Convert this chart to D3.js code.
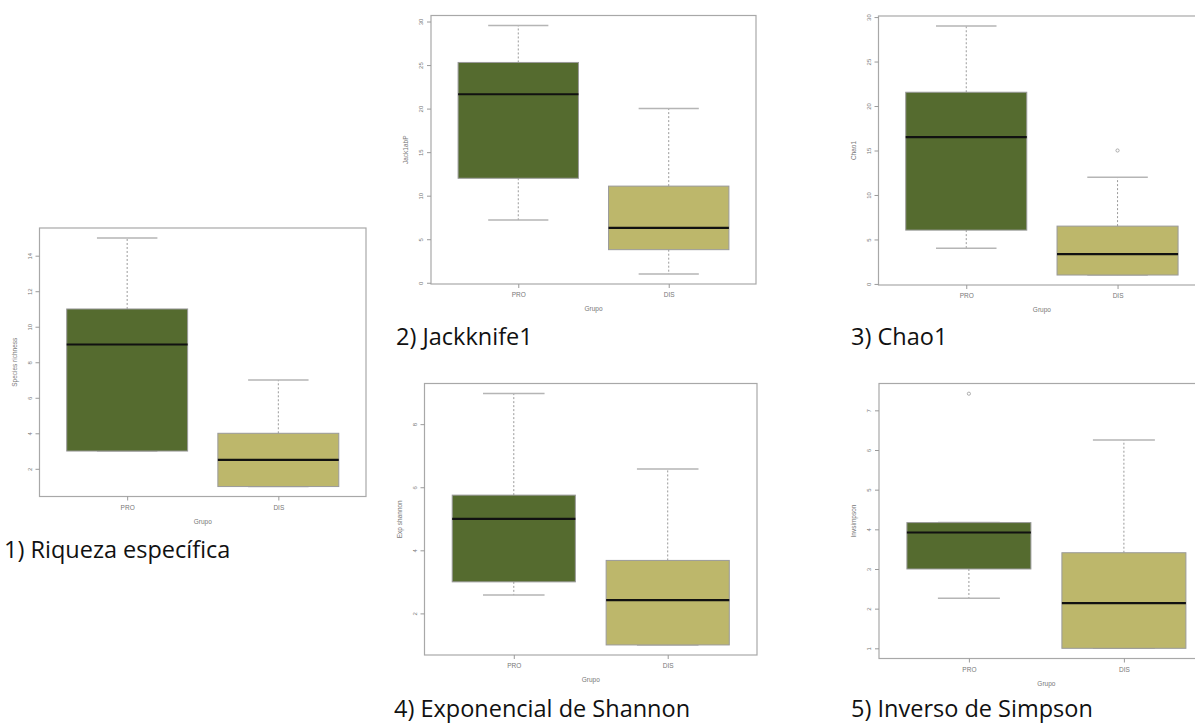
<!DOCTYPE html>
<html>
<head>
<meta charset="utf-8">
<script src="https://cdn.jsdelivr.net/npm/d3@7"></script>
<style>
  body { margin: 0; background: #fff; }
  svg { display: block; }
</style>
</head>
<body>
<div class="boxplots"></div>
<script>
var svgWidth = 1195;
var svgHeight = 726;

// groups on the x axis
var grupos = ["PRO", "DIS"];

// box stats per group: [min, Q1, median, Q3, max]
var riqueza = [[3, 3, 9, 11, 15], [1, 1, 2.5, 4, 7]];
var jackknife = [[7.2, 12, 21.65, 25.3, 29.55], [1, 3.8, 6.3, 11.1, 20]];
var chao = [[4, 6.05, 16.5, 21.55, 29], [1, 1, 3.35, 6.5, 12]];
var expShannon = [[2.58, 3, 5, 5.75, 8.97], [1, 1, 2.42, 3.68, 6.58]];
var invSimpson = [[2.26, 3, 3.92, 4.17, 4.17], [1, 1, 2.14, 3.41, 6.25]];

// outliers per group
var riquezaOut = [[], []];
var jackknifeOut = [[], []];
var chaoOut = [[], [15]];
var expShannonOut = [[], []];
var invSimpsonOut = [[7.42], []];

// y tick labels
var riquezaTicks = [2, 4, 6, 8, 10, 12, 14];
var jackknifeTicks = [0, 5, 10, 15, 20, 25, 30];
var chaoTicks = [0, 5, 10, 15, 20, 25, 30];
var expShannonTicks = [2, 4, 6, 8];
var invSimpsonTicks = [1, 2, 3, 4, 5, 6, 7];

var yLabels = ["Species richness", "Jack1abP", "Chao1", "Exp shannon", "Invsimpson"];
var captions = ["1) Riqueza específica", "2) Jackknife1", "3) Chao1", "4) Exponencial de Shannon", "5) Inverso de Simpson"];

var fills = ["#556B2F", "#BDB76B"];

// plot frames: left, top, right, bottom and caption position
var layout = [
  { frame: [39.5, 228, 366, 496.5], cap: [4, 558] },
  { frame: [431, 15.5, 756, 284], cap: [396, 345] },
  { frame: [878.5, 16, 1205.3, 285], cap: [851, 345] },
  { frame: [424.5, 383.5, 757, 655], cap: [394, 717] },
  { frame: [879, 383.5, 1213.8, 658.5], cap: [851, 717] }
];

var panelData = [
  { stats: riqueza, out: riquezaOut, ticks: riquezaTicks },
  { stats: jackknife, out: jackknifeOut, ticks: jackknifeTicks },
  { stats: chao, out: chaoOut, ticks: chaoTicks },
  { stats: expShannon, out: expShannonOut, ticks: expShannonTicks },
  { stats: invSimpson, out: invSimpsonOut, ticks: invSimpsonTicks }
];

var svg = d3.select(".boxplots")
  .append("svg")
  .attr("width", svgWidth)
  .attr("height", svgHeight);

var grey = "#9a9a9a";

panelData.forEach(function(p, i) {
  var f = layout[i].frame;
  var g = svg.append("g");

  // R style range: data range padded 4% each side
  var all = [];
  p.stats.forEach(function(s) { all = all.concat(s); });
  p.out.forEach(function(o) { all = all.concat(o); });
  var lo = d3.min(all), hi = d3.max(all);
  var pad = (hi - lo) * 0.04;

  var y = d3.scaleLinear().domain([lo - pad, hi + pad]).range([f[3], f[1]]);
  var x = d3.scaleLinear().domain([0.42, 2.58]).range([f[0], f[2]]);

  // whiskers (dashed) and staples
  p.stats.forEach(function(s, k) {
    var cx = x(k + 1);
    g.append("line")
      .attr("x1", cx).attr("x2", cx)
      .attr("y1", y(s[3])).attr("y2", y(s[4]))
      .attr("stroke", grey).attr("stroke-width", 1)
      .attr("stroke-dasharray", "2,2");
    g.append("line")
      .attr("x1", cx).attr("x2", cx)
      .attr("y1", y(s[1])).attr("y2", y(s[0]))
      .attr("stroke", grey).attr("stroke-width", 1)
      .attr("stroke-dasharray", "2,2");
    [s[0], s[4]].forEach(function(v) {
      g.append("line")
        .attr("x1", x(k + 0.8)).attr("x2", x(k + 1.2))
        .attr("y1", y(v)).attr("y2", y(v))
        .attr("stroke", "#b5b5b5").attr("stroke-width", 1.5);
    });
  });

  // boxes
  g.selectAll("rect.box")
    .data(p.stats)
    .enter()
    .append("rect")
    .attr("class", "box")
    .attr("x", (d, k) => x(k + 0.6))
    .attr("width", x(1.4) - x(0.6))
    .attr("y", d => y(d[3]))
    .attr("height", d => y(d[1]) - y(d[3]))
    .attr("fill", (d, k) => fills[k])
    .attr("stroke", grey)
    .attr("stroke-width", 1);

  // medians
  g.selectAll("line.med")
    .data(p.stats)
    .enter()
    .append("line")
    .attr("class", "med")
    .attr("x1", (d, k) => x(k + 0.6))
    .attr("x2", (d, k) => x(k + 1.4))
    .attr("y1", d => y(d[2]))
    .attr("y2", d => y(d[2]))
    .attr("stroke", "#111")
    .attr("stroke-width", 2.2);

  // outliers
  p.out.forEach(function(o, k) {
    o.forEach(function(v) {
      g.append("circle")
        .attr("cx", x(k + 1)).attr("cy", y(v)).attr("r", 1.6)
        .attr("fill", "none").attr("stroke", grey).attr("stroke-width", 0.8);
    });
  });

  // frame
  g.append("rect")
    .attr("x", f[0]).attr("y", f[1])
    .attr("width", f[2] - f[0]).attr("height", f[3] - f[1])
    .attr("fill", "none").attr("stroke", "#a8a8a8").attr("stroke-width", 1.2);

  // y axis
  var leftAxis = d3.axisLeft(y).tickValues(p.ticks).tickSize(4).tickFormat(d3.format("d"));
  var yAxis = g.append("g")
    .attr("transform", `translate(${f[0]}, 0)`)
    .call(leftAxis);
  yAxis.select(".domain").remove();
  yAxis.selectAll("line").attr("stroke", grey);
  yAxis.selectAll("text")
    .attr("transform", "rotate(-90)")
    .attr("x", 0).attr("y", -8).attr("dy", 0)
    .attr("text-anchor", "middle")
    .attr("fill", "#777")
    .attr("font-family", "Liberation Sans, Arial, sans-serif")
    .attr("font-size", 6);

  // x axis
  var bottomAxis = d3.axisBottom(x).tickValues([1, 2]).tickSize(4)
    .tickFormat(d => grupos[d - 1]);
  var xAxis = g.append("g")
    .attr("transform", `translate(0, ${f[3]})`)
    .call(bottomAxis);
  xAxis.select(".domain").remove();
  xAxis.selectAll("line").attr("stroke", grey);
  xAxis.selectAll("text")
    .attr("y", 13).attr("dy", 0)
    .attr("fill", "#777")
    .attr("font-family", "Liberation Sans, Arial, sans-serif")
    .attr("font-size", 6.5);

  // axis titles
  g.append("text")
    .attr("transform", `translate(${f[0] - 23}, ${(f[1] + f[3]) / 2}) rotate(-90)`)
    .attr("text-anchor", "middle")
    .attr("fill", "#777")
    .attr("font-family", "Liberation Sans, Arial, sans-serif")
    .attr("font-size", 6.5)
    .text(yLabels[i]);

  g.append("text")
    .attr("x", (x(1) + x(2)) / 2)
    .attr("y", f[3] + 27)
    .attr("text-anchor", "middle")
    .attr("fill", "#777")
    .attr("font-family", "Liberation Sans, Arial, sans-serif")
    .attr("font-size", 6.5)
    .text("Grupo");

  // caption under each panel
  svg.append("text")
    .attr("x", layout[i].cap[0])
    .attr("y", layout[i].cap[1])
    .attr("fill", "#111")
    .attr("font-family", "Open Sans, sans-serif")
    .attr("font-size", 23.5)
    .text(captions[i]);
});
</script>
</body>
</html>
